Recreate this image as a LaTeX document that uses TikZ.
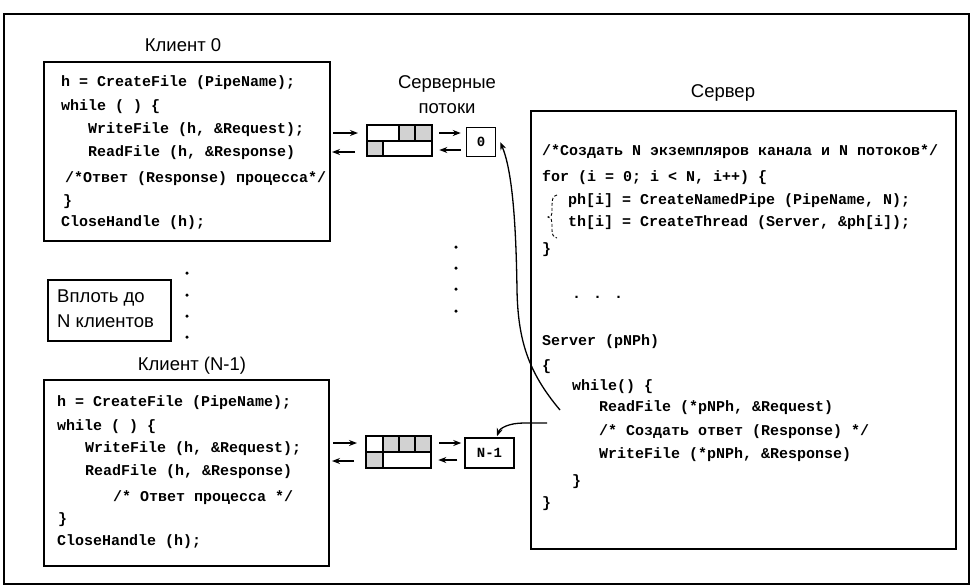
\documentclass[tikz,border=0pt]{standalone}
\usepackage{fontspec}
\setmainfont{Liberation Sans}
\newfontfamily\codefont{Liberation Mono}
\usetikzlibrary{arrows.meta,calc}
\begin{document}
\begin{tikzpicture}[x=1pt,y=-1pt,
  code/.style={anchor=west,inner sep=0pt,font=\codefont\bfseries\fontsize{15}{17}\selectfont},
  small/.style={font=\codefont\bfseries\fontsize{14}{15}\selectfont},
  title/.style={font=\fontsize{18.5}{25}\selectfont, inner sep=0pt},
  box/.style={draw,line width=1.5pt,inner sep=0pt},
  arr/.style={-{Stealth[length=8pt,width=6pt]}, line width=1.3pt},
  dotpt/.style={circle,fill,inner sep=0pt,minimum size=3.5pt},
  cell/.style={fill=gray!35}
]
\useasboundingbox (0,0) rectangle (972,587);
\draw[line width=1.5pt] (4,14) rectangle (969,584);

% ---------- Client 0 ----------
\node[title] (t0) at (183,45) {Клиент 0};
\node[box, minimum width=286, minimum height=179, anchor=north west] (cl0) at (43,61) {};
\node[code] (c0a) at (61,83) {h = CreateFile (PipeName);};
\node[code] (c0b) at (61,107) {while ( ) \{};
\node[code] (c0c) at (88,130) {WriteFile (h, \&Request);};
\node[code] (c0d) at (88,153) {ReadFile (h, \&Response)};
\node[code] (c0e) at (65,179) {/*Ответ (Response) процесса*/};
\node[code] (c0f) at (63,202) {\}};
\node[code] (c0g) at (61,223) {CloseHandle (h);};

% ---------- Up to N ----------
\node[box, minimum width=123, minimum height=61, anchor=north west] (upto) at (47,279) {};
\node[title, align=left, anchor=west] (uptot) at (57,309) {Вплоть до\\N клиентов};
\foreach \y [count=\i] in {273,295,316,337} \node[dotpt] (dl\i) at (187,\y) {};
\foreach \y [count=\i] in {247,268,289,311} \node[dotpt] (dm\i) at (456,\y) {};

% ---------- Client N-1 ----------
\node[title] (tN) at (192,366) {Клиент (N-1)};
\node[box, minimum width=285, minimum height=186, anchor=north west] (clN) at (43,379) {};
\node[code] (cNa) at (57,403) {h = CreateFile (PipeName);};
\node[code] (cNb) at (57,427) {while ( ) \{};
\node[code] (cNc) at (85,449) {WriteFile (h, \&Request);};
\node[code] (cNd) at (85,472) {ReadFile (h, \&Response)};
\node[code] (cNe) at (113,498) {/* Ответ процесса */};
\node[code] (cNf) at (58,520) {\}};
\node[code] (cNg) at (57,542) {CloseHandle (h);};

% ---------- Server threads ----------
\node[title, align=center] (st) at (447,95) {Серверные\\потоки};

\node[box, line width=1.3pt, minimum width=65, minimum height=31, anchor=north west] (buf0) at (367,125) {};
\begin{scope}[shift={(buf0.north west)}]
  \fill[cell] (32,0) rectangle (65,16);
  \fill[cell] (0,16) rectangle (16,31);
  \draw[line width=1.3pt] (0,16) -- (65,16) (32,0) -- (32,16) (48,0) -- (48,16) (16,16) -- (16,31);
  \draw[line width=1.3pt] (0,0) rectangle (65,31);
\end{scope}

\node[box, line width=1.3pt, minimum width=65, minimum height=32, anchor=north west] (bufN) at (366,436) {};
\begin{scope}[shift={(bufN.north west)}]
  \fill[cell] (17,0) rectangle (65,16);
  \fill[cell] (0,16) rectangle (17,32);
  \draw[line width=1.3pt] (0,16) -- (65,16) (17,0) -- (17,32) (33,0) -- (33,16) (49,0) -- (49,16);
  \draw[line width=1.3pt] (0,0) rectangle (65,32);
\end{scope}

\node[box, small, minimum width=29, minimum height=29] (p0) at (481,142) {0};
\node[box, small, minimum width=49, minimum height=30] (pN) at (489.5,453) {N-1};

% short arrows, client 0
\draw[arr] ($(buf0.north west)+(-34,8)$) -- ($(buf0.north west)+(-9,8)$);
\draw[arr] ($(buf0.north west)+(-12,27)$) -- ($(buf0.north west)+(-35,27)$);
\draw[arr] ($(buf0.north east)+(6,8)$) -- ($(p0.west)+(-5,-9)$);
\draw[arr] ($(p0.west)+(-5,8)$) -- ($(buf0.north east)+(6,25)$);
% short arrows, client N-1
\draw[arr] ($(bufN.north west)+(-33,7)$) -- ($(bufN.north west)+(-9,7)$);
\draw[arr] ($(bufN.north west)+(-12,25)$) -- ($(bufN.north west)+(-34,25)$);
\draw[arr] ($(bufN.north east)+(7,7)$) -- ($(pN.west)+(-3,-10)$);
\draw[arr] ($(pN.west)+(-7,7)$) -- ($(bufN.north east)+(6,24)$);

% ---------- Server ----------
\node[title] (ts) at (723,93) {Сервер};
\node[box, minimum width=425, minimum height=438, anchor=north west] (sv) at (530,110) {};
\node[code] (s1) at (542,152) {/*Создать N экземпляров канала и N потоков*/};
\node[code] (s2) at (542,178) {for (i = 0; i < N, i++) \{};
\node[code] (s3) at (568,201) {ph[i] = CreateNamedPipe (PipeName, N);};
\node[code] (s4) at (568,223) {th[i] = CreateThread (Server, \&ph[i]);};
\node[code] (s5) at (542,250) {\}};
\node[code] (s6) at (572,297) {. . .};
\node[code] (s7) at (542,342) {Server (pNPh)};
\node[code] (s8) at (542,367) {\{};
\node[code] (s9) at (572,387) {while() \{};
\node[code] (s10) at (599,408) {ReadFile (*pNPh, \&Request)};
\node[code] (s11) at (599,432) {/* Создать ответ (Response) */};
\node[code] (s12) at (599,455) {WriteFile (*pNPh, \&Response)};
\node[code] (s13) at (572,482) {\}};
\node[code] (s14) at (542,504) {\}};

% dashed brace
\draw[line width=0.9pt, dash pattern=on 3pt off 2pt]
  (557,195) .. controls (553,196) and (552,199) .. (552,205) -- (552,211)
  .. controls (552,215) and (551,217) .. (548,217)
  .. controls (551,217) and (552,220) .. (552,223) -- (552,230)
  .. controls (552,234) and (553,237) .. (557,238);

% curved connectors
\coordinate (a1s) at (560,410);
\coordinate (a1e) at ($(p0.east)+(4,0)$);
\draw[arr] (a1s) .. controls (528,372) and (518,340) .. (517,290)
  .. controls (516,220) and (512,170) .. (a1e);
\coordinate (a2s) at (547,423);
\coordinate (a2e) at ($(pN.north)+(7.5,-1)$);
\draw[arr] (a2s) -- (524,423) .. controls (509,423) and (500,428) .. (a2e);
\end{tikzpicture}
\end{document}
